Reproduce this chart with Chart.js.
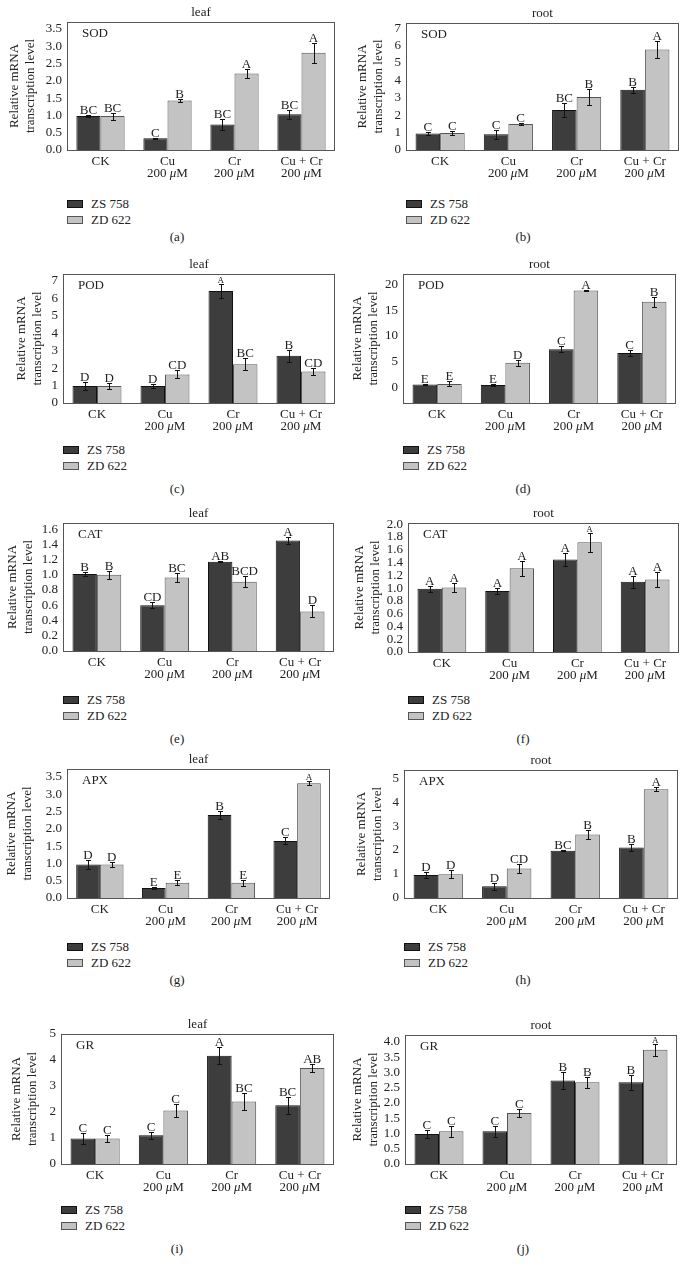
<!DOCTYPE html>
<html><head><meta charset="utf-8">
<script src="https://cdn.jsdelivr.net/npm/chart.js@4.4.1/dist/chart.umd.min.js"></script>
<style>
body{margin:0;background:#fff;width:690px;height:1275px;position:relative;overflow:hidden;font-family:"Liberation Serif","DejaVu Serif",serif;color:#222;}
.leg{position:absolute;font-size:13px;}
.leg div{height:16px;line-height:16px;display:flex;align-items:center;white-space:nowrap;}
.sw{display:inline-block;width:14px;height:6px;margin-right:8px;box-sizing:content-box;}
.sub{position:absolute;font-size:13px;transform:translate(-50%,-50%);}
</style></head><body>
<script>
// ---------- shared labels ----------
const categories = ['CK', 'Cu', 'Cr', 'Cu + Cr'];
const doseLabels = ['', '200 μM', '200 μM', '200 μM'];
const seriesNames = ['ZS 758', 'ZD 622'];

// ---------- tick values ----------
const ticksA = [0, 0.5, 1.0, 1.5, 2.0, 2.5, 3.0, 3.5];
const ticksB = [0, 1, 2, 3, 4, 5, 6, 7];
const ticksC = [0, 1, 2, 3, 4, 5, 6, 7];
const ticksD = [0, 5, 10, 15, 20];
const ticksE = [0, 0.2, 0.4, 0.6, 0.8, 1.0, 1.2, 1.4, 1.6];
const ticksF = [0, 0.2, 0.4, 0.6, 0.8, 1.0, 1.2, 1.4, 1.6, 1.8, 2.0];
const ticksG = [0, 0.5, 1.0, 1.5, 2.0, 2.5, 3.0, 3.5];
const ticksH = [0, 1, 2, 3, 4, 5];
const ticksI = [0, 1, 2, 3, 4, 5];
const ticksJ = [0, 0.5, 1.0, 1.5, 2.0, 2.5, 3.0, 3.5, 4.0];

// ---------- (a) SOD leaf ----------
const sodLeafZS = [0.98, 0.34, 0.74, 1.03];
const sodLeafZSErr = [0.03, 0.02, 0.16, 0.13];
const sodLeafZD = [0.98, 1.43, 2.21, 2.81];
const sodLeafZDErr = [0.10, 0.05, 0.14, 0.29];
const sodLeafZSLet = ['BC', 'C', 'BC', 'BC'];
const sodLeafZDLet = ['BC', 'B', 'A', 'A'];
// ---------- (b) SOD root ----------
const sodRootZS = [0.95, 0.91, 2.30, 3.46];
const sodRootZSErr = [0.06, 0.25, 0.42, 0.17];
const sodRootZD = [0.97, 1.49, 3.04, 5.78];
const sodRootZDErr = [0.12, 0.08, 0.48, 0.51];
const sodRootZSLet = ['C', 'C', 'BC', 'B'];
const sodRootZDLet = ['C', 'C', 'B', 'A'];
// ---------- (c) POD leaf ----------
const podLeafZS = [0.97, 0.97, 6.42, 2.71];
const podLeafZSErr = [0.22, 0.10, 0.41, 0.34];
const podLeafZD = [0.97, 1.64, 2.22, 1.80];
const podLeafZDErr = [0.18, 0.23, 0.35, 0.20];
const podLeafZSLet = ['D', 'D', 'A', 'B'];
const podLeafZDLet = ['D', 'CD', 'BC', 'CD'];
// ---------- (d) POD root ----------
const podRootZS = [0.6, 0.5, 7.4, 6.7];
const podRootZSErr = [0.10, 0.15, 0.55, 0.55];
const podRootZD = [0.7, 4.8, 18.8, 16.6];
const podRootZDErr = [0.50, 0.60, 0.15, 1.00];
const podRootZSLet = ['E', 'E', 'C', 'C'];
const podRootZDLet = ['E', 'D', 'A', 'B'];
// ---------- (e) CAT leaf ----------
const catLeafZS = [1.01, 0.60, 1.17, 1.45];
const catLeafZSErr = [0.03, 0.04, 0.005, 0.04];
const catLeafZD = [1.00, 0.965, 0.91, 0.52];
const catLeafZDErr = [0.05, 0.06, 0.07, 0.08];
const catLeafZSLet = ['B', 'CD', 'AB', 'A'];
const catLeafZDLet = ['B', 'BC', 'BCD', 'D'];
// ---------- (f) CAT root ----------
const catRootZS = [0.99, 0.955, 1.45, 1.10];
const catRootZSErr = [0.05, 0.05, 0.10, 0.09];
const catRootZD = [1.01, 1.31, 1.72, 1.135];
const catRootZDErr = [0.07, 0.12, 0.15, 0.11];
const catRootZSLet = ['A', 'A', 'A', 'A'];
const catRootZDLet = ['A', 'A', 'A', 'A'];
// ---------- (g) APX leaf ----------
const apxLeafZS = [0.97, 0.29, 2.40, 1.65];
const apxLeafZSErr = [0.12, 0.02, 0.13, 0.10];
const apxLeafZD = [0.97, 0.44, 0.44, 3.32];
const apxLeafZDErr = [0.06, 0.07, 0.08, 0.06];
const apxLeafZSLet = ['D', 'E', 'B', 'C'];
const apxLeafZDLet = ['D', 'E', 'E', 'A'];
// ---------- (h) APX root ----------
const apxRootZS = [0.96, 0.49, 1.97, 2.11];
const apxRootZSErr = [0.14, 0.15, 0.03, 0.15];
const apxRootZD = [0.99, 1.23, 2.65, 4.54];
const apxRootZDErr = [0.17, 0.19, 0.20, 0.07];
const apxRootZSLet = ['D', 'D', 'BC', 'B'];
const apxRootZDLet = ['D', 'CD', 'B', 'A'];
// ---------- (i) GR leaf ----------
const grLeafZS = [0.98, 1.11, 4.16, 2.26];
const grLeafZSErr = [0.20, 0.13, 0.33, 0.33];
const grLeafZD = [0.98, 2.06, 2.40, 3.69];
const grLeafZDErr = [0.14, 0.25, 0.33, 0.15];
const grLeafZSLet = ['C', 'C', 'A', 'BC'];
const grLeafZDLet = ['C', 'C', 'BC', 'AB'];
// ---------- (j) GR root ----------
const grRootZS = [0.98, 1.07, 2.74, 2.68];
const grRootZSErr = [0.12, 0.18, 0.27, 0.25];
const grRootZD = [1.07, 1.67, 2.68, 3.75];
const grRootZDErr = [0.17, 0.14, 0.18, 0.20];
const grRootZSLet = ['C', 'C', 'B', 'B'];
const grRootZDLet = ['C', 'C', 'B', 'A'];

const FONT = '"Liberation Serif", "DejaVu Serif", serif';
const TXT = '#222';

// panel layout (page coordinates of the plot frame) + data references
const panels = [
  {id:'a', col:0, tissue:'leaf', gene:'SOD', L:67, R:335, T:22, B:150, min:0, max:3.7, ticks:ticksA, dec:1, yt:15, leg:204, sub:237,
   zs:sodLeafZS, zsErr:sodLeafZSErr, zd:sodLeafZD, zdErr:sodLeafZDErr, zsLet:sodLeafZSLet, zdLet:sodLeafZDLet, tiny:[]},
  {id:'b', col:1, tissue:'root', gene:'SOD', L:406, R:679, T:23, B:150, min:0, max:7.3, ticks:ticksB, dec:0, yt:18, leg:204, sub:237,
   zs:sodRootZS, zsErr:sodRootZSErr, zd:sodRootZD, zdErr:sodRootZDErr, zsLet:sodRootZSLet, zdLet:sodRootZDLet, tiny:[]},
  {id:'c', col:0, tissue:'leaf', gene:'POD', L:63, R:335, T:274, B:403, min:0, max:7.4, ticks:ticksC, dec:0, yt:22, leg:450, sub:489,
   zs:podLeafZS, zsErr:podLeafZSErr, zd:podLeafZD, zdErr:podLeafZDErr, zsLet:podLeafZSLet, zdLet:podLeafZDLet, tiny:[[0,2]]},
  {id:'d', col:1, tissue:'root', gene:'POD', L:403, R:676, T:274, B:403, min:-3, max:22, ticks:ticksD, dec:0, yt:13, leg:450, sub:489,
   zs:podRootZS, zsErr:podRootZSErr, zd:podRootZD, zdErr:podRootZDErr, zsLet:podRootZSLet, zdLet:podRootZDLet, tiny:[]},
  {id:'e', col:0, tissue:'leaf', gene:'CAT', L:63, R:334, T:523, B:651, min:0, max:1.68, ticks:ticksE, dec:1, yt:13, leg:700, sub:739,
   zs:catLeafZS, zsErr:catLeafZSErr, zd:catLeafZD, zdErr:catLeafZDErr, zsLet:catLeafZSLet, zdLet:catLeafZDLet, tiny:[]},
  {id:'f', col:1, tissue:'root', gene:'CAT', L:408, R:679, T:523, B:652, min:0, max:2.02, ticks:ticksF, dec:1, yt:15, leg:700, sub:739,
   zs:catRootZS, zsErr:catRootZSErr, zd:catRootZD, zdErr:catRootZDErr, zsLet:catRootZSLet, zdLet:catRootZDLet, tiny:[[1,2]]},
  {id:'g', col:0, tissue:'leaf', gene:'APX', L:67, R:330, T:769, B:898, min:0, max:3.73, ticks:ticksG, dec:1, yt:12, leg:947, sub:980,
   zs:apxLeafZS, zsErr:apxLeafZSErr, zd:apxLeafZD, zdErr:apxLeafZDErr, zsLet:apxLeafZSLet, zdLet:apxLeafZDLet, tiny:[[1,3]]},
  {id:'h', col:1, tissue:'root', gene:'APX', L:404, R:678, T:770, B:898, min:0, max:5.34, ticks:ticksH, dec:0, yt:17, leg:947, sub:980,
   zs:apxRootZS, zsErr:apxRootZSErr, zd:apxRootZD, zdErr:apxRootZDErr, zsLet:apxRootZSLet, zdLet:apxRootZDLet, tiny:[]},
  {id:'i', col:0, tissue:'leaf', gene:'GR', L:61, R:334, T:1034, B:1164, min:0, max:5, ticks:ticksI, dec:0, yt:17, leg:1210, sub:1249,
   zs:grLeafZS, zsErr:grLeafZSErr, zd:grLeafZD, zdErr:grLeafZDErr, zsLet:grLeafZSLet, zdLet:grLeafZDLet, tiny:[]},
  {id:'j', col:1, tissue:'root', gene:'GR', L:405, R:677, T:1035, B:1164, min:0, max:4.23, ticks:ticksJ, dec:1, yt:13, leg:1210, sub:1249,
   zs:grRootZS, zsErr:grRootZSErr, zd:grRootZD, zdErr:grRootZDErr, zsLet:grRootZSLet, zdLet:grRootZDLet, tiny:[[1,3]]}
];

const panelPlugin = {
  id: 'panelDecor',
  afterDatasetsDraw(chart) {
    const ctx = chart.ctx, y = chart.scales.y;
    const p = chart.options.plugins.panelDecor.p;
    ctx.save();
    chart.data.datasets.forEach((ds, di) => {
      const meta = chart.getDatasetMeta(di);
      meta.data.forEach((bar, i) => {
        const v = ds.data[i], e = ds.err[i];
        const yt = Math.round(y.getPixelForValue(v + e)) + 0.5;
        const yb = Math.round(y.getPixelForValue(v - e)) + 0.5;
        const x = Math.round(bar.x) + 0.5;
        ctx.strokeStyle = '#111'; ctx.lineWidth = 1;
        ctx.beginPath();
        ctx.moveTo(x, yt); ctx.lineTo(x, yb);
        ctx.moveTo(x - 2.5, yt); ctx.lineTo(x + 2.5, yt);
        ctx.moveTo(x - 2.5, yb); ctx.lineTo(x + 2.5, yb);
        ctx.stroke();
        const tiny = p.tiny.some(t => t[0] === di && t[1] === i);
        ctx.fillStyle = TXT;
        ctx.font = (tiny ? 9 : 13) + 'px ' + FONT;
        ctx.textAlign = 'center'; ctx.textBaseline = 'alphabetic';
        ctx.fillText(ds.letters[i], bar.x, yt - 2);
      });
    });
    ctx.restore();
  },
  afterDraw(chart) {
    const ctx = chart.ctx, a = chart.chartArea, xs = chart.scales.x;
    const p = chart.options.plugins.panelDecor.p;
    ctx.save();
    // frame
    ctx.strokeStyle = '#555'; ctx.lineWidth = 1;
    ctx.strokeRect(Math.round(a.left) + 0.5, Math.round(a.top) + 0.5, Math.round(a.right - a.left) - 1, Math.round(a.bottom - a.top));
    ctx.fillStyle = TXT;
    // tissue title
    ctx.font = '13px ' + FONT; ctx.textAlign = 'center'; ctx.textBaseline = 'middle';
    ctx.fillText(p.tissue, (a.left + a.right) / 2, a.top - 9);
    // gene label
    ctx.textAlign = 'left';
    ctx.fillText(p.gene, a.left + 15, a.top + 12);
    // x labels
    categories.forEach((c, i) => {
      const x = xs.getPixelForValue(i);
      ctx.textAlign = 'center'; ctx.font = '13px ' + FONT;
      ctx.fillText(c, x, a.bottom + 12);
      const d = doseLabels[i];
      if (d) {
        const parts = d.split('μ');
        ctx.font = '13px ' + FONT;
        const w1 = ctx.measureText(parts[0]).width, w3 = ctx.measureText(parts[1]).width;
        ctx.font = 'italic 13px ' + FONT;
        const w2 = ctx.measureText('μ').width;
        let sx = x - (w1 + w2 + w3) / 2;
        ctx.textAlign = 'left';
        ctx.font = '13px ' + FONT; ctx.fillText(parts[0], sx, a.bottom + 24);
        ctx.font = 'italic 13px ' + FONT; ctx.fillText('μ', sx + w1, a.bottom + 24);
        ctx.font = '13px ' + FONT; ctx.fillText(parts[1], sx + w1 + w2, a.bottom + 24);
      }
    });
    // y title
    ctx.translate(p.yt, (a.top + a.bottom) / 2);
    ctx.rotate(-Math.PI / 2);
    ctx.textAlign = 'center'; ctx.font = '13px ' + FONT;
    ctx.fillText('Relative mRNA', 0, 0);
    ctx.fillText('transcription level', 0, 16);
    ctx.restore();
  }
};

function makePanel(p) {
  const colX = p.col === 0 ? 0 : 345;
  const cTop = p.T - 24;
  const H = (p.B - p.T) + 24 + 38;
  const canvas = document.createElement('canvas');
  canvas.width = 345; canvas.height = H;
  canvas.style.cssText = `position:absolute;left:${colX}px;top:${cTop}px;width:345px;height:${H}px;`;
  document.body.appendChild(canvas);
  new Chart(canvas, {
    type: 'bar',
    data: {
      labels: categories,
      datasets: [
        {label: seriesNames[0], data: p.zs, err: p.zsErr, letters: p.zsLet, base: p.min,
         backgroundColor: '#3d3d3d', borderColor: '#111', borderWidth: 1},
        {label: seriesNames[1], data: p.zd, err: p.zdErr, letters: p.zdLet, base: p.min,
         backgroundColor: '#c3c3c3', borderColor: '#555', borderWidth: 1}
      ]
    },
    options: {
      responsive: false, animation: false, devicePixelRatio: 1,
      layout: {padding: {left: 0, right: colX + 345 - p.R, top: 24, bottom: 0}},
      datasets: {bar: {categoryPercentage: 0.72, barPercentage: 1}},
      plugins: {legend: {display: false}, tooltip: {enabled: false}, panelDecor: {p: p}},
      scales: {
        x: {grid: {display: false}, border: {display: false}, ticks: {display: false},
            afterFit(s) { s.height = 38; }},
        y: {min: p.min, max: p.max, grid: {display: false, drawTicks: false}, border: {display: false},
            afterBuildTicks(s) { s.ticks = p.ticks.map(v => ({value: v})); },
            ticks: {autoSkip: false, padding: 5, color: TXT,
                    font: {family: FONT, size: 13}, callback: v => Number(v).toFixed(p.dec)},
            afterFit(s) { s.width = p.L - colX; }}
      }
    },
    plugins: [panelPlugin]
  });
  // legend
  const leg = document.createElement('div');
  leg.className = 'leg';
  leg.style.left = p.L + 'px'; leg.style.top = (p.leg - 8) + 'px';
  leg.innerHTML =
    `<div><span class="sw" style="background:#3d3d3d;border:1px solid #111"></span>${seriesNames[0]}</div>` +
    `<div><span class="sw" style="background:#c3c3c3;border:1px solid #555"></span>${seriesNames[1]}</div>`;
  document.body.appendChild(leg);
  const sub = document.createElement('div');
  sub.className = 'sub';
  sub.style.left = (p.col === 0 ? 177 : 523) + 'px'; sub.style.top = p.sub + 'px';
  sub.textContent = '(' + p.id + ')';
  document.body.appendChild(sub);
}
panels.forEach(makePanel);
</script>
</body></html>
